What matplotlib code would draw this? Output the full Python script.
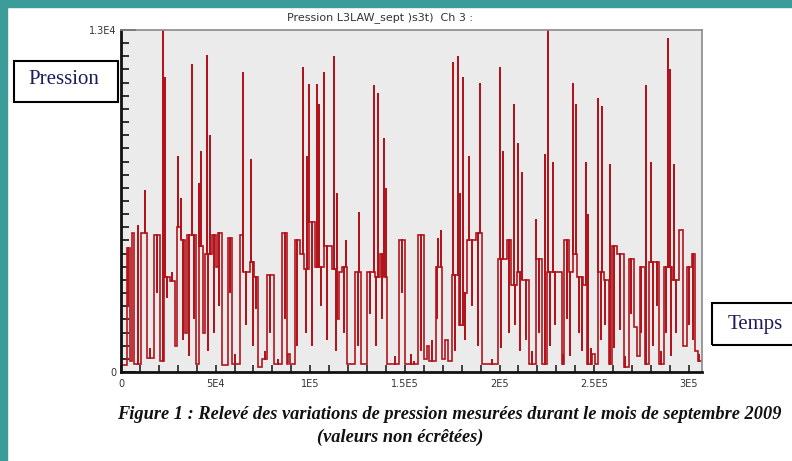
import matplotlib
matplotlib.use("Agg")
import matplotlib.pyplot as plt
from matplotlib.patches import Rectangle

# Niveaux du signal : (debut en milliers d'echantillons, pression)
seg_t = [0, 3.2, 4.8, 5.8, 6.9, 10.6, 13.8, 17.5, 20.6, 22.5, 26, 28.6, 29.6, 31.7,
         33.9, 34.9, 39.5, 41, 43.5, 44.4, 48.1, 50, 51, 53.4, 56.6, 58.7, 63.0, 64.5,
         68.2, 70.5, 72.5, 74.6, 77.2, 80.9, 85.2, 87.8, 88.5, 89.5, 92.0, 94.7, 96.8,
         99.5, 102.6, 107.4, 111.6, 114, 115, 116.9, 119.6, 123.8, 127.0, 130.1, 134,
         137, 139, 140.7, 147.1, 150.2, 157.1, 160.3, 161.5, 163, 166.6, 169.8, 171,
         173, 175.0, 178.8, 181, 183.0, 187.8, 191.0, 199.4, 203.7, 206.3, 209.0,
         212.1, 215.8, 219.5, 222.2, 225.0, 230, 232.8, 234.3, 236.5, 238.6, 240.7,
         244, 246.0, 249, 250.5, 252.3, 255.0, 257.6, 259.2, 262, 265.6, 268.2, 271,
         272.4, 274.0, 276.7, 278.8, 284.1, 286.7, 291.0, 294.7, 296.8, 298.9, 301.5,
         303.1, 305]
seg_p = [250, 4700, 400, 5300, 300, 5300, 550, 5200, 400, 3600, 3450, 1000, 5500, 5000,
         1500, 5200, 300, 4800, 1500, 4500, 5200, 4000, 5300, 250, 5100, 300, 5200, 3800,
         4200, 3600, 200, 500, 3700, 300, 5300, 300, 700, 300, 5000, 4500, 3900,
         5700, 4000, 4800, 3900, 2000, 3800, 4000, 300, 3800, 300, 3800, 3600,
         4500, 3600, 300, 5000, 300, 5200, 500, 1000, 400, 4000, 500, 1200,
         400, 3700, 1800, 3000, 5000, 5300, 300, 4300, 5000, 3300, 3800,
         3500, 300, 4300, 300, 3800, 3800, 300, 5000, 3800, 4500, 3600,
         3300, 300, 700, 300, 3800, 3500, 300, 4800, 4500, 200, 4300, 1700,
         600, 4000, 300, 4200, 300, 4000, 3500, 5400, 1000, 4000, 4500,
         800, 400]
t_end = 307

# Pics de pression (milliers d'echantillons, pression)
spike_t = [12.7, 22.2, 23.3, 30.2, 31.7, 37.6, 41.3, 42.3, 45.5, 47.1, 64.5, 68.8,
           96.3, 98.5, 99.5, 103.7, 104.7, 107.4, 112.7, 114.3, 119.0, 125.9, 133.8,
           136.0, 139.1, 140.2, 167.7, 169.3, 175.6, 178.3, 179.3, 180.9, 184.1,
           189.9, 200.0, 202.1, 207.4, 210.0, 212.1, 219.5, 223.8, 225.4, 228.5,
           238.6, 240.2, 245.5, 247.0, 252.3, 254.4, 258.2, 277.2, 279.8, 288.8,
           289.9, 292.0]
spike_p = [6900, 13000, 11200, 8200, 6600, 11700, 7200, 8400, 12050, 9000, 11400, 8100,
           11600, 8200, 10950, 10950, 10200, 11400, 12000, 6800, 5000, 6100, 10900,
           10600, 8900, 7000, 5100, 5400, 11800, 12000, 6800, 11200, 8200,
           11000, 11600, 8400, 10200, 8700, 7600, 5800, 8300, 13000, 8000,
           11000, 10200, 8000, 6000, 10400, 10100, 7900, 10900, 8000, 12700,
           11500, 7900]

# Chutes breves et petits sauts sur les paliers
dip_t = [3.9, 9.0, 15.5, 19, 24.5, 27, 32.5, 36, 38.5, 46, 49, 52, 57.5, 60, 66,
         69.5, 71.5, 76, 78.5, 83, 86.5, 93, 97.5, 101, 105.5, 109, 113.5, 118, 125,
         131.5, 135, 138, 145, 148.5, 153, 155, 158.5, 164.5, 167, 176.5, 182, 185.5,
         188.9, 196, 201, 204.8, 208, 211, 214, 217, 220.8, 226.5, 229.5, 233.5,
         235.5, 237.3, 242, 243.5, 248.2, 253.5, 256, 260.5, 263.5, 266.5, 269.5,
         275, 281, 283, 285.5, 287.8, 290.5, 293, 300, 302.3, 305.5]
dip_p = [2500, 5600, 900, 3000, 2800, 3800, 1200, 600, 2000, 800, 1500, 2500, 3000,
         700, 1800, 1000, 2400, 800, 1500, 500, 2000, 1000, 1500, 1000, 2500, 1200,
         800, 1500, 1000, 2200, 1000, 2000, 600, 3000, 700, 400, 800, 1200, 2000,
         800, 1200, 2500, 1000, 500, 900, 1500, 1800, 800, 1200, 800, 1500, 1000,
         1800, 700, 2000, 600, 1500, 800, 900, 1200, 1800, 900, 1600, 600, 2200,
         1500, 1000, 2500, 800, 1500, 600, 1500, 1800, 1200, 700]

xtick_vals = [0, 5e4, 1e5, 1.5e5, 2e5, 2.5e5, 3e5]
xtick_labels = ["0", "5E4", "1E5", "1.5E5", "2E5", "2.5E5", "3E5"]
ytick_vals = [0, 13000]
ytick_labels = ["0", "1.3E4"]


def build_trace():
    events = [(t, 0, p) for t, p in zip(seg_t, seg_p)]
    events += [(t, 1, p) for t, p in zip(spike_t, spike_p)]
    events += [(t, 1, p) for t, p in zip(dip_t, dip_p)]
    events.sort()
    xs, ys = [], []
    cur = seg_p[0]
    for t, kind, v in events:
        if kind == 0:
            xs += [t, t]
            ys += [cur, v]
            cur = v
        else:
            xs += [t, t, t]
            ys += [cur, v, cur]
    xs.append(t_end)
    ys.append(cur)
    return [x * 1000 for x in xs], ys


fig = plt.figure(figsize=(7.92, 4.61), dpi=100)
fig.patch.set_facecolor("white")

# bordure turquoise du scan
teal = "#3c9c9a"
fig.add_artist(Rectangle((0, 0), 7 / 792, 1, transform=fig.transFigure, color=teal, zorder=0))
fig.add_artist(Rectangle((0, 1 - 7 / 461), 1, 7 / 461, transform=fig.transFigure, color=teal, zorder=0))

ax = fig.add_axes([121 / 792, 89 / 461, 581 / 792, 342 / 461])
ax.set_facecolor("#ebebeb")

xs, ys = build_trace()
ax.plot(xs, ys, color="#b3141c", lw=1.2, solid_joinstyle="miter")

ax.set_xlim(0, t_end * 1000)
ax.set_ylim(0, 13000)

ax.set_xticks(xtick_vals)
ax.set_xticklabels(xtick_labels)
ax.set_xticks([i * 1e4 for i in range(31)], minor=True)
ax.set_yticks(ytick_vals)
ax.set_yticklabels(ytick_labels)
ax.set_yticks(list(range(0, 13001, 500)), minor=True)
ax.tick_params(axis="x", which="both", direction="in", length=5, width=1.2,
               color="#222222", labelsize=7, pad=5)
ax.tick_params(axis="y", which="major", direction="in", length=11, width=1.2,
               color="#111111", labelsize=7, pad=3)
ax.tick_params(axis="y", which="minor", direction="in", length=6, width=1.2, color="#111111")
for lab in ax.get_xticklabels() + ax.get_yticklabels():
    lab.set_color("#333333")

ax.spines["left"].set_linewidth(2)
ax.spines["bottom"].set_linewidth(2)
ax.spines["left"].set_color("#111111")
ax.spines["bottom"].set_color("#111111")
for s in ("top", "right"):
    ax.spines[s].set_color("#8a8a8a")
    ax.spines[s].set_linewidth(1.2)

fig.text(380 / 792, 1 - 18 / 461, "Pression L3LAW_sept )s3t)  Ch 3 :", ha="center",
         va="center", fontsize=8, color="#333333")

# encadres "Pression" et "Temps"
navy = "#1c1c5c"
fig.add_artist(Rectangle((14 / 792, 1 - 102 / 461), 104 / 792, 41 / 461,
                         transform=fig.transFigure, fill=False, ec="black", lw=1.5))
fig.text(64 / 792, 1 - 80 / 461, "Pression", ha="center", va="center",
         family="Liberation Serif", fontsize=15, color=navy)
fig.add_artist(Rectangle((712 / 792, 1 - 345 / 461), 85 / 792, 42 / 461,
                         transform=fig.transFigure, fill=False, ec="black", lw=1.5))
fig.text(755 / 792, 1 - 324 / 461, "Temps", ha="center", va="center",
         family="Liberation Serif", fontsize=15, color=navy)

# legende de la figure
fig.text(449 / 792, 1 - 414 / 461,
         "Figure 1 : Relevé des variations de pression mesurées durant le mois de septembre 2009",
         ha="center", va="center", family="Liberation Serif", fontsize=13.2,
         fontweight="bold", style="italic", color="#111111")
fig.text(400 / 792, 1 - 437 / 461, "(valeurs non écrêtées)", ha="center", va="center",
         family="Liberation Serif", fontsize=13.2, fontweight="bold", style="italic",
         color="#111111")

fig.savefig("out.png", dpi=100)
